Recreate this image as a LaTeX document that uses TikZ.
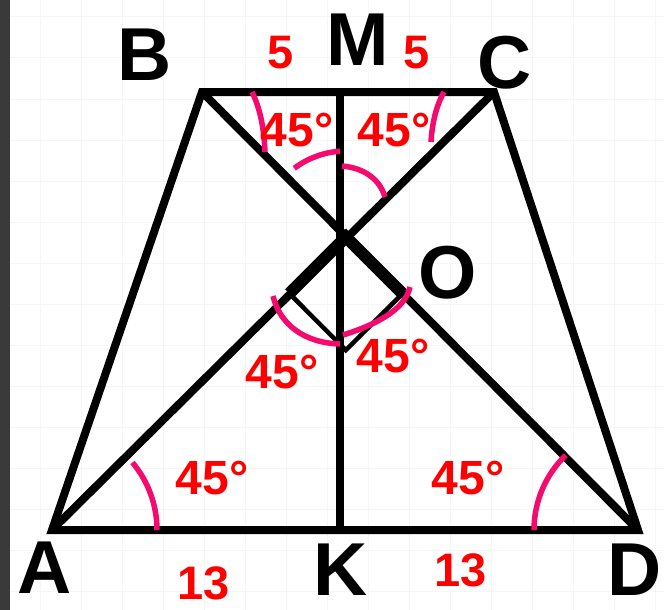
\documentclass[tikz,border=0pt]{standalone}
\usepackage{fontspec}
\setmainfont{Liberation Sans}
\usetikzlibrary{calc}
\definecolor{arcpink}{HTML}{F50A6E}
\definecolor{lblred}{HTML}{FF0000}
\definecolor{gridfaint}{HTML}{F6F6F6}
\definecolor{edgedark}{HTML}{3A3A3A}

\begin{document}
\begin{tikzpicture}[x=1pt,y=-1pt,
  every node/.style={inner sep=0pt},
  side/.style={line width=8pt,line join=miter},
  rightmark/.style={line width=4.5pt,line join=miter},
  anglearc/.style={arcpink,line width=5.5pt},
  vlbl/.style={font=\bfseries\fontsize{75}{75}\selectfont},
  anglbl/.style={font=\bfseries\fontsize{48}{48}\selectfont,text=lblred},
  lenlbl/.style={font=\bfseries\fontsize{47}{47}\selectfont,text=lblred}
]

% ---- canvas ----
\useasboundingbox (0,0) rectangle (664,610);
\fill[white] (0,0) rectangle (664,610);
\foreach \x in {40,81,...,664}{
  \draw[gridfaint,line width=1pt] (\x,0) -- (\x,610);
}
\foreach \y in {17,58,...,610}{
  \draw[gridfaint,line width=1pt] (0,\y) -- (664,\y);
}
\fill[edgedark] (0,0) rectangle (10,610);

% ---- vertices ----
\coordinate (A) at (52,530);
\coordinate (B) at (202,92);
\coordinate (C) at (494,92);
\coordinate (D) at (638,530);
\coordinate (M) at (340,92);
\coordinate (K) at (340,530);
\coordinate (O) at (346,237);

% ---- right angle at O ----
\coordinate (P) at ($(O)!80pt!(A)$);
\coordinate (Q) at ($(O)!80pt!(D)$);
\coordinate (R) at ($(P)+(Q)-(O)$);
\draw[rightmark] (P) -- (R) -- (Q);
\draw[line width=12pt] (P) -- (O) -- (Q);

% ---- trapezoid, diagonals, height ----
\draw[side] (A) -- (B) -- (C) -- (D) -- cycle;
\draw[side] (A) -- (C);
\draw[side] (B) -- (D);
\draw[side] (M) -- (K);

% ---- angle arcs ----
\draw[anglearc] ($(A)+(105,0)$) arc (0:-40:105);
\draw[anglearc] ($(D)+(-104,0)$) arc (180:226:104);
\draw[anglearc] (252,92) .. controls (260,108) and (264,128) .. (265,152);
\draw[anglearc] (444,92) .. controls (436,106) and (432,124) .. (431,142);
\draw[anglearc] ($(O)+(-127:86)$) arc (-127:-94:86);
\draw[anglearc] (342,166) .. controls (365,168) and (380,180) .. (385,197);
\draw[anglearc] (273,296) .. controls (280,325) and (305,343) .. (340,344);
\draw[anglearc] (343,335) .. controls (375,325) and (405,310) .. (410,287);

% ---- vertex labels ----
\node[vlbl] (lA) at (45,568) {A};
\node[vlbl] (lB) at (145,55) {B};
\node[vlbl] (lC) at (505,63) {C};
\node[vlbl] (lD) at (635,570) {D};
\node[vlbl] (lM) at (358,40) {M};
\node[vlbl] (lK) at (341,570) {K};
\node[vlbl] (lO) at (448,273) {O};

% ---- lengths ----
\node[lenlbl] (bm) at (281,53) {5};
\node[lenlbl] (mc) at (417,53) {5};
\node[lenlbl] (ak) at (204,583) {13};
\node[lenlbl] (kd) at (461,570) {13};

% ---- angles ----
\node[anglbl] (a1) at (297,130) {45°};
\node[anglbl] (a2) at (394,130) {45°};
\node[anglbl] (a3) at (282,372) {45°};
\node[anglbl] (a4) at (393,356) {45°};
\node[anglbl] (a5) at (212,478) {45°};
\node[anglbl] (a6) at (468,478) {45°};

\end{tikzpicture}
\end{document}
